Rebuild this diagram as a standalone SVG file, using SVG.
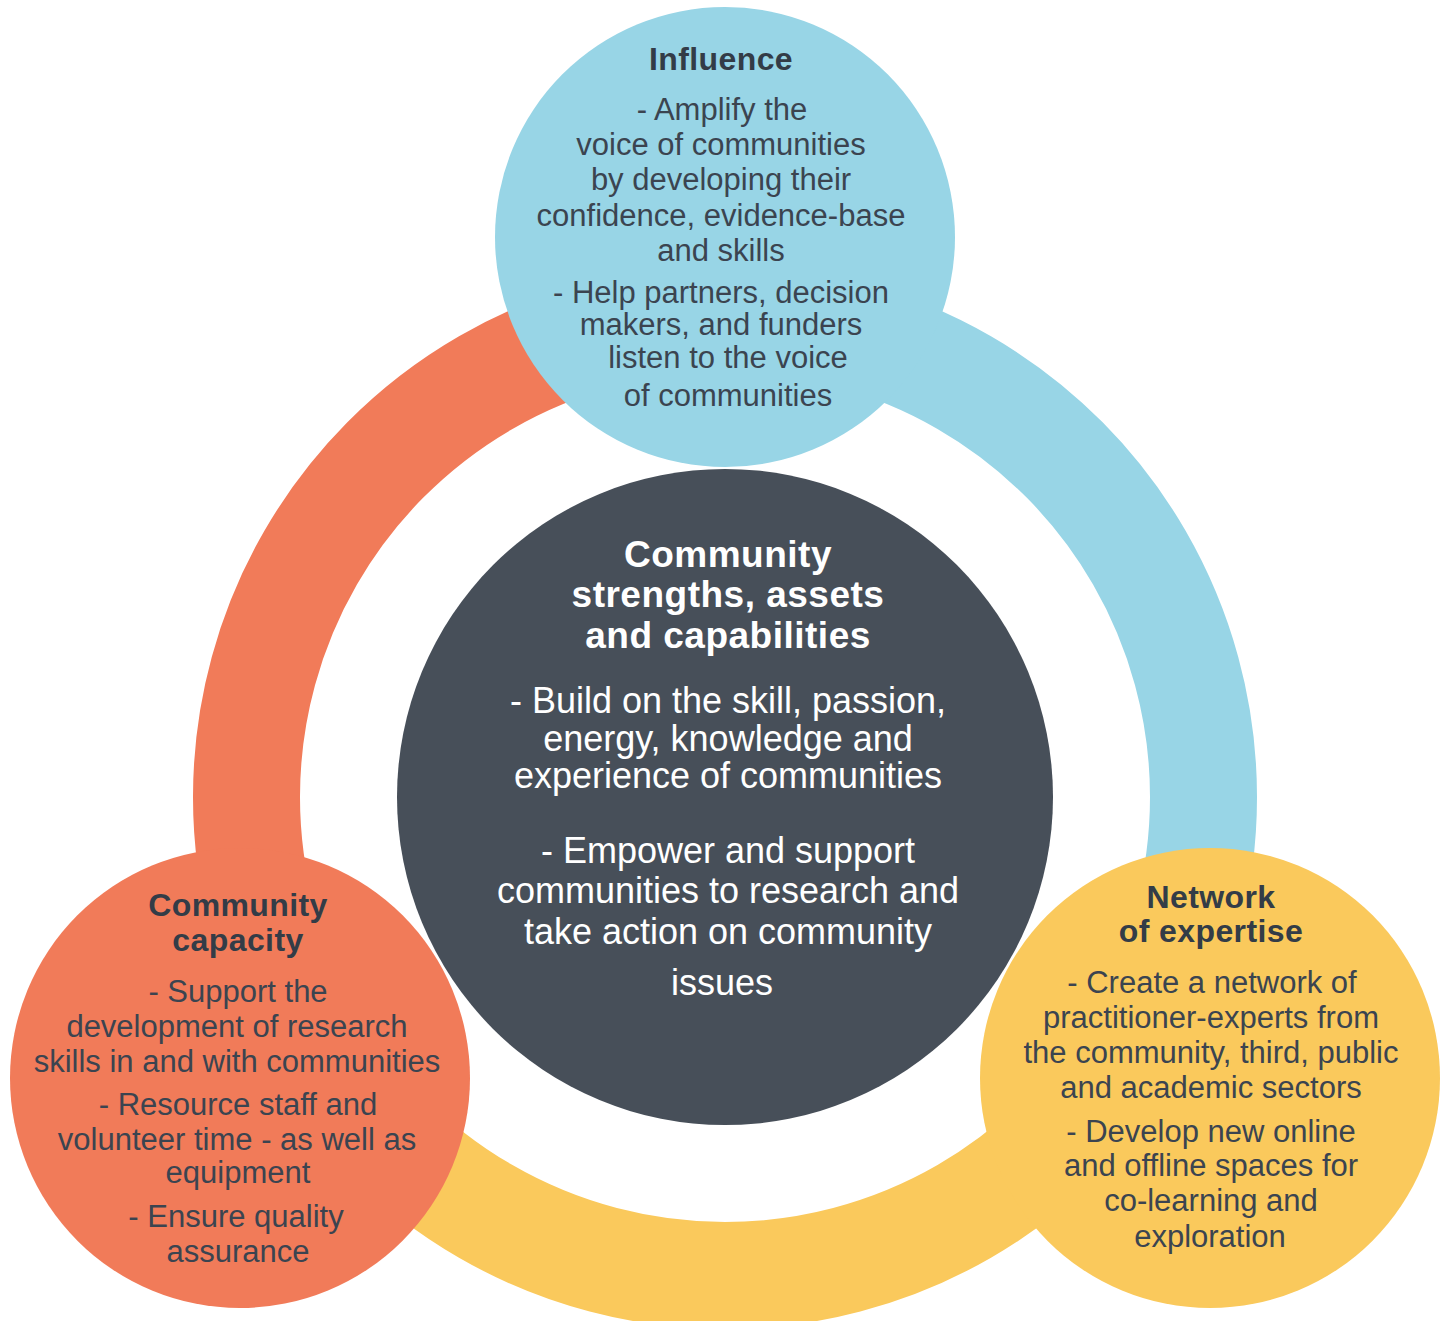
<svg xmlns="http://www.w3.org/2000/svg" width="1449" height="1321" viewBox="0 0 1449 1321">
<style>
.ring{fill:none;stroke-width:107;stroke-linecap:butt}
.t{font-family:"Liberation Sans",Arial,sans-serif;text-anchor:middle}
.h{font-weight:bold;font-size:32px;fill:#333c47;letter-spacing:0.4px}
.b{font-size:31px;fill:#3b4450}
.ch{font-weight:bold;font-size:37px;fill:#ffffff;letter-spacing:0.5px}
.cb{font-size:36px;fill:#ffffff}
</style>
<rect width="1449" height="1321" fill="#ffffff"/>
<g id="connectors">
<path class="ring" stroke="#98d5e6" d="M725 318.5 A478.5 478.5 0 0 1 1139.4 1036.25"/>
<path class="ring" stroke="#fac95c" d="M1139.4 1036.25 A478.5 478.5 0 0 1 310.6 1036.25"/>
<path class="ring" stroke="#f17b59" d="M310.6 1036.25 A478.5 478.5 0 0 1 725 318.5"/>
</g>
<g id="center">
<circle cx="725" cy="797" r="328" fill="#474f59"/>
<text class="t ch" x="728" y="567">Community</text>
<text class="t ch" x="728" y="607">strengths, assets</text>
<text class="t ch" x="728" y="648">and capabilities</text>
<text class="t cb" x="728" y="713">- Build on the skill, passion,</text>
<text class="t cb" x="728" y="751">energy, knowledge and</text>
<text class="t cb" x="728" y="788">experience of communities</text>
<text class="t cb" x="728" y="863">- Empower and support</text>
<text class="t cb" x="728" y="903">communities to research and</text>
<text class="t cb" x="728" y="944">take action on community</text>
<text class="t cb" x="722" y="995">issues</text>
</g>
<g id="influence">
<circle cx="725" cy="237" r="230" fill="#98d5e6"/>
<text class="t h" x="721" y="70">Influence</text>
<text class="t b" x="722" y="120">- Amplify the</text>
<text class="t b" x="721" y="155">voice of communities</text>
<text class="t b" x="721" y="190">by developing their</text>
<text class="t b" x="721" y="226">confidence, evidence-base</text>
<text class="t b" x="721" y="261">and skills</text>
<text class="t b" x="721" y="303">- Help partners, decision</text>
<text class="t b" x="721" y="335">makers, and funders</text>
<text class="t b" x="728" y="368">listen to the voice</text>
<text class="t b" x="728" y="406">of communities</text>
</g>
<g id="community-capacity">
<circle cx="240" cy="1078" r="230" fill="#f17b59"/>
<text class="t h" x="238" y="916">Community</text>
<text class="t h" x="238" y="951">capacity</text>
<text class="t b" x="238" y="1002">- Support the</text>
<text class="t b" x="237" y="1037">development of research</text>
<text class="t b" x="237" y="1072">skills in and with communities</text>
<text class="t b" x="238" y="1115">- Resource staff and</text>
<text class="t b" x="237" y="1150">volunteer time - as well as</text>
<text class="t b" x="238" y="1183">equipment</text>
<text class="t b" x="236" y="1227">- Ensure quality</text>
<text class="t b" x="238" y="1262">assurance</text>
</g>
<g id="network-of-expertise">
<circle cx="1210" cy="1078" r="230" fill="#fac95c"/>
<text class="t h" x="1211" y="908">Network</text>
<text class="t h" x="1211" y="942">of expertise</text>
<text class="t b" x="1212" y="993">- Create a network of</text>
<text class="t b" x="1211" y="1028">practitioner-experts from</text>
<text class="t b" x="1211" y="1063">the community, third, public</text>
<text class="t b" x="1211" y="1098">and academic sectors</text>
<text class="t b" x="1211" y="1142">- Develop new online</text>
<text class="t b" x="1211" y="1176">and offline spaces for</text>
<text class="t b" x="1211" y="1211">co-learning and</text>
<text class="t b" x="1210" y="1247">exploration</text>
</g>
</svg>
